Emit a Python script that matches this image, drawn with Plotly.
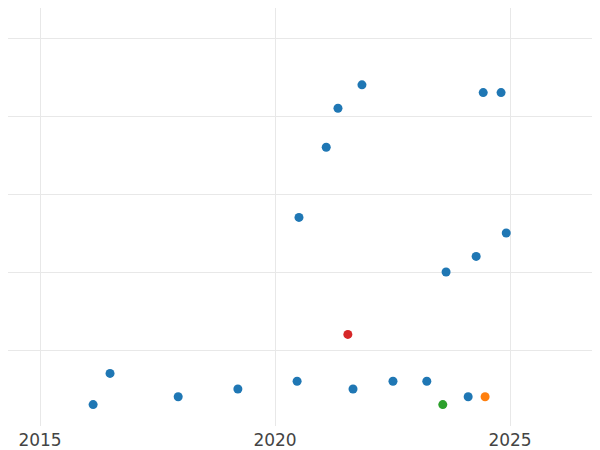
import plotly.graph_objects as go

years = [2016.13, 2016.49, 2017.94, 2019.21, 2020.47, 2020.51, 2021.09, 2021.34,
         2021.66, 2021.85, 2022.51, 2023.23, 2023.64, 2024.11, 2024.28, 2024.43,
         2024.81, 2024.92]
values = [3, 7, 4, 5, 6, 27, 36, 41, 5, 44, 6, 6, 20, 4, 22, 43, 43, 25]

red_year = [2021.55]
red_value = [12]
green_year = [2023.57]
green_value = [3]
orange_year = [2024.47]
orange_value = [4]

fig = go.Figure()
fig.add_trace(go.Scatter(x=years, y=values, mode="markers",
                         marker=dict(color="#1f77b4", size=9)))
fig.add_trace(go.Scatter(x=orange_year, y=orange_value, mode="markers",
                         marker=dict(color="#ff7f0e", size=9)))
fig.add_trace(go.Scatter(x=green_year, y=green_value, mode="markers",
                         marker=dict(color="#2ca02c", size=9)))
fig.add_trace(go.Scatter(x=red_year, y=red_value, mode="markers",
                         marker=dict(color="#d62728", size=9)))

fig.update_layout(
    width=592, height=442,
    margin=dict(l=0, r=0, t=0, b=24),
    paper_bgcolor="white", plot_bgcolor="white",
    showlegend=False,
    font=dict(family="DejaVu Sans", size=17, color="#444"),
)
fig.update_xaxes(range=[2014.319, 2026.915], tick0=2015, dtick=5,
                 showgrid=True, gridcolor="#e8e8e8", gridwidth=1,
                 zeroline=False, showline=False, ticks="", automargin=False,
                 ticklabelstandoff=2)
fig.update_yaxes(range=[0.256, 53.85], tick0=0, dtick=10,
                 showgrid=True, gridcolor="#e8e8e8", gridwidth=1,
                 zeroline=False, showline=False, showticklabels=False,
                 ticks="", automargin=False)

fig.write_html("out.html")
